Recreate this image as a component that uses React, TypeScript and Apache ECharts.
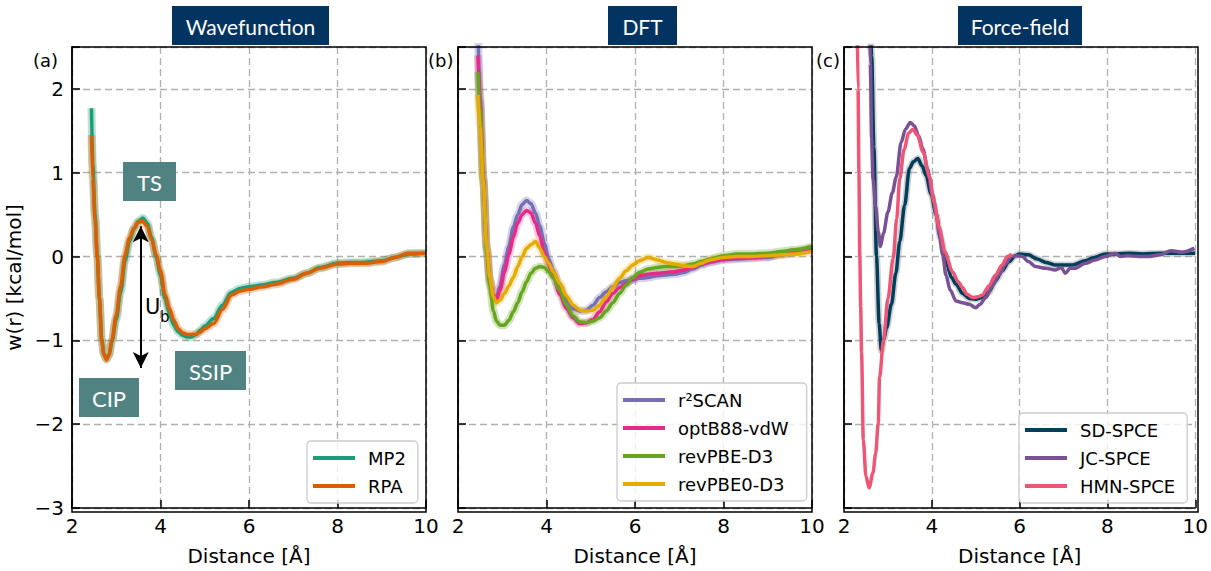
import React, { useEffect, useRef } from 'react';
import * as echarts from 'echarts';

// ---------- Panel (a): Wavefunction ----------
const aX = [2.44, 2.47, 2.52, 2.57, 2.62, 2.67, 2.72, 2.78, 2.84, 2.9, 3.0, 3.1, 3.2, 3.3, 3.4, 3.5, 3.6, 3.7, 3.8, 3.9, 4.0, 4.1, 4.2, 4.3, 4.4, 4.5, 4.6, 4.7, 4.8, 4.9, 5.0, 5.2, 5.4, 5.6, 5.8, 6.0, 6.3, 6.6, 7.0, 7.3, 7.6, 8.0, 8.3, 8.6, 9.0, 9.3, 9.6, 10.0];
const mp2Y = [1.77, 1.1, 0.5, 0.02, -0.5, -0.98, -1.16, -1.22, -1.17, -1.02, -0.75, -0.42, -0.05, 0.18, 0.33, 0.42, 0.46, 0.4, 0.22, 0.0, -0.22, -0.5, -0.68, -0.82, -0.9, -0.94, -0.96, -0.96, -0.93, -0.88, -0.83, -0.74, -0.58, -0.43, -0.38, -0.36, -0.34, -0.31, -0.26, -0.2, -0.13, -0.08, -0.07, -0.07, -0.05, -0.01, 0.03, 0.04];
const rpaY = [1.45, 0.93, 0.45, 0.0, -0.5, -1.0, -1.17, -1.23, -1.17, -1.0, -0.7, -0.35, 0.02, 0.22, 0.34, 0.41, 0.42, 0.36, 0.2, 0.02, -0.17, -0.45, -0.62, -0.76, -0.86, -0.91, -0.93, -0.93, -0.93, -0.9, -0.86, -0.8, -0.63, -0.46, -0.41, -0.39, -0.36, -0.33, -0.27, -0.2, -0.14, -0.09, -0.08, -0.08, -0.06, -0.01, 0.04, 0.04];

// ---------- Panel (b): DFT ----------
const bX = [2.45, 2.5, 2.57, 2.65, 2.72, 2.8, 2.87, 2.95, 3.05, 3.15, 3.25, 3.35, 3.45, 3.55, 3.65, 3.75, 3.85, 3.95, 4.05, 4.15, 4.3, 4.45, 4.6, 4.75, 4.9, 5.05, 5.2, 5.35, 5.5, 5.65, 5.8, 5.95, 6.1, 6.3, 6.5, 6.7, 6.9, 7.1, 7.3, 7.5, 7.7, 8.0, 8.3, 8.6, 9.0, 9.3, 9.6, 10.0];
const r2scanY = [2.7, 1.9, 0.95, 0.1, -0.3, -0.47, -0.48, -0.35, -0.1, 0.12, 0.35, 0.5, 0.62, 0.67, 0.63, 0.52, 0.36, 0.16, -0.03, -0.17, -0.36, -0.52, -0.62, -0.65, -0.64, -0.58, -0.49, -0.42, -0.36, -0.31, -0.29, -0.28, -0.26, -0.25, -0.23, -0.22, -0.21, -0.19, -0.15, -0.1, -0.07, -0.04, -0.03, -0.02, -0.01, 0.02, 0.05, 0.1];
const optb88Y = [2.4, 1.85, 0.93, 0.1, -0.28, -0.47, -0.51, -0.4, -0.18, 0.03, 0.23, 0.4, 0.5, 0.55, 0.52, 0.4, 0.24, 0.05, -0.1, -0.22, -0.45, -0.62, -0.73, -0.8, -0.79, -0.75, -0.66, -0.54, -0.44, -0.37, -0.32, -0.27, -0.23, -0.21, -0.2, -0.19, -0.18, -0.16, -0.13, -0.09, -0.06, -0.03, -0.02, -0.01, 0.0, 0.03, 0.06, 0.1];
const revpbeY = [2.2, 1.75, 0.9, 0.05, -0.35, -0.65, -0.77, -0.82, -0.82, -0.76, -0.66, -0.55, -0.42, -0.3, -0.2, -0.14, -0.12, -0.13, -0.18, -0.25, -0.4, -0.58, -0.71, -0.78, -0.79, -0.77, -0.73, -0.65, -0.55, -0.44, -0.34, -0.25, -0.19, -0.15, -0.13, -0.12, -0.12, -0.11, -0.09, -0.06, -0.03, 0.01, 0.03, 0.03, 0.04, 0.06, 0.08, 0.12];
const revpbe0Y = [1.93, 1.55, 0.9, 0.12, -0.25, -0.48, -0.55, -0.52, -0.44, -0.35, -0.25, -0.12, 0.0, 0.1, 0.14, 0.18, 0.1, 0.0, -0.08, -0.18, -0.32, -0.47, -0.58, -0.64, -0.65, -0.64, -0.58, -0.48, -0.37, -0.26, -0.17, -0.1, -0.05, -0.01, -0.04, -0.07, -0.09, -0.11, -0.12, -0.08, -0.04, -0.01, 0.0, 0.0, 0.01, 0.02, 0.03, 0.06];

// ---------- Panel (c): Force-field ----------
const sdX = [2.6, 2.63, 2.68, 2.74, 2.8, 2.85, 2.9, 2.97, 3.08, 3.18, 3.27, 3.38, 3.49, 3.58, 3.68, 3.78, 3.87, 3.98, 4.1, 4.2, 4.32, 4.45, 4.55, 4.7, 4.85, 5.0, 5.15, 5.3, 5.45, 5.6, 5.76, 5.9, 6.0, 6.2, 6.4, 6.6, 6.8, 7.0, 7.2, 7.5, 7.7, 7.95, 8.2, 8.5, 8.8, 9.2, 9.6, 10.0];
const sdY = [2.8, 2.39, 1.3, 0.0, -0.8, -1.12, -1.0, -0.85, -0.57, -0.2, 0.18, 0.61, 1.05, 1.13, 1.17, 1.08, 0.97, 0.75, 0.5, 0.22, -0.06, -0.25, -0.33, -0.44, -0.5, -0.51, -0.49, -0.42, -0.29, -0.17, -0.06, 0.01, 0.03, 0.02, -0.03, -0.07, -0.1, -0.1, -0.1, -0.05, -0.01, 0.03, 0.03, 0.04, 0.03, 0.04, 0.04, 0.04];
const jcX = [2.58, 2.6, 2.63, 2.66, 2.72, 2.78, 2.83, 2.9, 3.0, 3.1, 3.19, 3.3, 3.4, 3.51, 3.6, 3.7, 3.8, 3.9, 4.02, 4.1, 4.17, 4.25, 4.32, 4.42, 4.55, 4.7, 4.85, 5.0, 5.1, 5.23, 5.38, 5.53, 5.68, 5.8, 5.95, 6.06, 6.2, 6.36, 6.6, 6.81, 6.95, 7.04, 7.15, 7.26, 7.5, 7.72, 7.95, 8.17, 8.3, 8.47, 8.7, 8.92, 9.2, 9.45, 9.7, 9.98];
const jcY = [2.8, 2.3, 1.4, 0.93, 0.6, 0.3, 0.12, 0.28, 0.53, 0.76, 0.95, 1.36, 1.52, 1.6, 1.56, 1.44, 1.28, 1.05, 0.73, 0.5, 0.26, 0.02, -0.22, -0.4, -0.53, -0.55, -0.57, -0.61, -0.57, -0.49, -0.35, -0.22, -0.09, 0.0, 0.01, 0.0, -0.06, -0.12, -0.14, -0.16, -0.13, -0.2, -0.14, -0.14, -0.08, -0.04, 0.0, 0.04, 0.0, 0.01, 0.0, 0.0, 0.02, 0.07, 0.05, 0.1];
const hmnX = [2.3, 2.32, 2.34, 2.36, 2.38, 2.4, 2.44, 2.5, 2.57, 2.66, 2.72, 2.78, 2.81, 2.9, 3.0, 3.12, 3.2, 3.27, 3.37, 3.47, 3.57, 3.67, 3.8, 3.95, 4.05, 4.17, 4.3, 4.47, 4.6, 4.7, 4.8, 4.93, 5.05, 5.15, 5.3, 5.45, 5.6, 5.72, 5.82];
const hmnY = [2.8, 2.0, 1.0, 0.0, -0.6, -1.15, -2.19, -2.62, -2.76, -2.58, -2.35, -1.99, -1.44, -1.0, -0.5, -0.02, 0.45, 0.93, 1.28, 1.47, 1.52, 1.45, 1.25, 0.95, 0.65, 0.34, 0.05, -0.18, -0.3, -0.37, -0.45, -0.49, -0.48, -0.46, -0.35, -0.22, -0.1, 0.0, 0.03];

// ---------- axes / text ----------
const xMin = 2, xMax = 10, xStep = 2;
const yMin = -3, yMax = 2.5, yStep = 1;
const panelTitles = ['Wavefunction', 'DFT', 'Force-field'];
const panelTags = ['(a)', '(b)', '(c)'];
const xName = 'Distance [Å]';
const yName = 'w(r) [kcal/mol]';
// barrier arrow (data units, panel a)
const arrowX = 3.555, arrowTop = 0.36, arrowBottom = -1.33;

const C = {
  mp2: '#1b9e77', rpa: '#d95f02',
  r2: '#7570b3', opt: '#e7298a', rev: '#66a61e', rev0: '#e6ab02',
  sd: '#003f5c', jc: '#7a5195', hmn: '#ef5675',
  title: '#033461', note: '#508281',
};

const pairs = (xs: number[], ys: number[]) => xs.map((x, i) => [x, ys[i]]);

const GRID_TOP = 47, GRID_H = 465, GRID_W = 354;
const GRID_LEFTS = [72, 458, 844];
const TAG_X = [33, 428, 816];
const FONT = 'DejaVu Sans';
const AX_FS = 20;

function line(name: string, xs: number[], ys: number[], color: string, gi: number, extra: any = {}) {
  return {
    type: 'line', name, xAxisIndex: gi, yAxisIndex: gi, data: pairs(xs, ys),
    showSymbol: false, symbol: 'none', smooth: 0.3, smoothMonotone: 'x',
    lineStyle: { color, width: 3.5 }, itemStyle: { color }, clip: true, silent: true,
    ...extra,
  };
}
function band(name: string, xs: number[], ys: number[], color: string, gi: number, width = 8, opacity = 0.3) {
  return {
    type: 'line', name, xAxisIndex: gi, yAxisIndex: gi, data: pairs(xs, ys),
    showSymbol: false, symbol: 'none', smooth: 0.3, smoothMonotone: 'x',
    lineStyle: { color, width, opacity }, itemStyle: { color }, clip: true, silent: true, z: 1,
  };
}

export default function App() {
  const ref = useRef<HTMLDivElement>(null);
  useEffect(() => {
    if (!ref.current) return;
    const chart = echarts.init(ref.current, null, { renderer: 'svg' });

    const grids = GRID_LEFTS.map((l) => ({ left: l, top: GRID_TOP, width: GRID_W, height: GRID_H }));
    const xAxes = GRID_LEFTS.map((_, i) => ({
      type: 'value', gridIndex: i, min: xMin, max: xMax, interval: xStep,
      name: xName, nameLocation: 'middle', nameGap: 38,
      nameTextStyle: { fontFamily: FONT, fontSize: AX_FS, color: '#000' },
      axisLine: { show: true, onZero: false, lineStyle: { color: '#000', width: 1.5 } },
      axisTick: { show: true, inside: true, length: 8, lineStyle: { color: '#000', width: 1.5 } },
      axisLabel: { fontFamily: FONT, fontSize: AX_FS, color: '#000', margin: 8 },
      splitLine: { show: true, lineStyle: { color: '#b0b0b0', width: 1.3, type: [7, 4] } },
    }));
    const yAxes = GRID_LEFTS.map((_, i) => ({
      type: 'value', gridIndex: i, min: yMin, max: yMax, interval: yStep,
      name: i === 0 ? yName : '', nameLocation: 'middle', nameGap: 48,
      nameTextStyle: { fontFamily: FONT, fontSize: AX_FS, color: '#000' },
      axisLine: { show: true, onZero: false, lineStyle: { color: '#000', width: 1.5 } },
      axisTick: { show: true, inside: true, length: 8, lineStyle: { color: '#000', width: 1.5 } },
      axisLabel: {
        show: i === 0, fontFamily: FONT, fontSize: AX_FS, color: '#000', margin: 8,
        formatter: (v: number) => (Number.isInteger(v) ? (v < 0 ? '\u2212' + Math.abs(v) : String(v)) : ''),
      },
      splitLine: { show: true, lineStyle: { color: '#b0b0b0', width: 1.3, type: [7, 4] } },
    }));

    const series: any[] = [
      band('mp2band', aX, mp2Y, C.mp2, 0, 8, 0.3),
      band('rpaband', aX, rpaY, C.rpa, 0, 8, 0.3),
      line('MP2', aX, mp2Y, C.mp2, 0),
      line('RPA', aX, rpaY, C.rpa, 0, {
        markLine: {
          silent: true, symbol: ['arrow', 'arrow'], symbolSize: [12, 16],
          lineStyle: { color: '#000', width: 2, type: 'solid' }, label: { show: false },
          data: [[{ coord: [arrowX, arrowTop] }, { coord: [arrowX, arrowBottom] }]],
        },
      }),
      band('r2band', bX, r2scanY, C.r2, 1, 8, 0.3),
      band('optband', bX, optb88Y, C.opt, 1, 8, 0.25),
      band('revband', bX, revpbeY, C.rev, 1, 8, 0.3),
      band('rev0band', bX, revpbe0Y, C.rev0, 1, 8, 0.25),
      line('r²SCAN', bX, r2scanY, C.r2, 1),
      line('optB88-vdW', bX, optb88Y, C.opt, 1),
      line('revPBE-D3', bX, revpbeY, C.rev, 1),
      line('revPBE0-D3', bX, revpbe0Y, C.rev0, 1),
      band('sdband', sdX, sdY, '#9a9a9a', 2, 7, 0.45),
      line('SD-SPCE', sdX, sdY, C.sd, 2),
      line('JC-SPCE', jcX, jcY, C.jc, 2),
      line('HMN-SPCE', hmnX, hmnY, C.hmn, 2),
    ];

    const legendBase = {
      orient: 'vertical', icon: 'rect', itemWidth: 42, itemHeight: 4, itemGap: 10,
      backgroundColor: 'rgba(255,255,255,0.8)', borderColor: '#cccccc', borderWidth: 1.3, borderRadius: 4,
      selectedMode: false,
      textStyle: { fontFamily: FONT, fontSize: 18, color: '#000', padding: [0, 0, 0, 8] },
    };
    const legends = [
      { ...legendBase, left: 307, top: 441, padding: [8, 12, 8, 6], data: ['MP2', 'RPA'] },
      { ...legendBase, left: 617, top: 383, padding: [8, 18, 8, 6], data: ['r²SCAN', 'optB88-vdW', 'revPBE-D3', 'revPBE0-D3'] },
      { ...legendBase, left: 1019, top: 413, padding: [8, 12, 8, 6], data: ['SD-SPCE', 'JC-SPCE', 'HMN-SPCE'] },
    ];

    const titleBoxes = [
      { x: 172, w: 157 },
      { x: 608, w: 69 },
      { x: 958, w: 124 },
    ];
    const graphic: any[] = [];
    titleBoxes.forEach((b, i) => {
      graphic.push({ type: 'rect', shape: { x: b.x, y: 6, width: b.w, height: 39 }, style: { fill: C.title }, z: 50 });
      graphic.push({
        type: 'text', x: b.x + b.w / 2, y: 26, z: 51,
        style: { text: panelTitles[i], fill: '#fff', fontSize: 21, fontFamily: 'Lato', align: 'center', verticalAlign: 'middle' },
      });
    });
    GRID_LEFTS.forEach((l, i) => {
      graphic.push({ type: 'rect', shape: { x: l, y: GRID_TOP, width: GRID_W, height: GRID_H }, style: { fill: 'none', stroke: '#000', lineWidth: 1.5 }, z: 60 });
      graphic.push({
        type: 'text', x: TAG_X[i], y: 60, z: 60,
        style: { text: panelTags[i], fill: '#000', fontSize: 18, fontFamily: FONT, align: 'left', verticalAlign: 'middle' },
      });
    });
    const notes = [
      { t: 'TS', x: 123, y: 162, w: 53, h: 39 },
      { t: 'SSIP', x: 175, y: 351, w: 71, h: 39 },
      { t: 'CIP', x: 79, y: 378, w: 60, h: 39 },
    ];
    notes.forEach((n) => {
      graphic.push({ type: 'rect', shape: { x: n.x, y: n.y, width: n.w, height: n.h }, style: { fill: C.note }, z: 40 });
      graphic.push({
        type: 'text', x: n.x + n.w / 2, y: n.y + n.h / 2 + 1, z: 41,
        style: { text: n.t, fill: '#fff', fontSize: 22, fontFamily: 'Lato', align: 'center', verticalAlign: 'middle' },
      });
    });
    graphic.push({ type: 'text', x: 145, y: 307, z: 41, style: { text: 'U', fill: '#000', fontSize: 21, fontFamily: FONT, align: 'left', verticalAlign: 'middle' } });
    graphic.push({ type: 'text', x: 160, y: 317, z: 41, style: { text: 'b', fill: '#000', fontSize: 15, fontFamily: FONT, align: 'left', verticalAlign: 'middle' } });

    chart.setOption({
      animation: false,
      backgroundColor: '#fff',
      grid: grids,
      xAxis: xAxes,
      yAxis: yAxes,
      legend: legends,
      series,
      graphic,
    });
    return () => chart.dispose();
  }, []);
  return <div ref={ref} style={{ position: 'fixed', left: 0, top: 0, width: 1211, height: 571, background: '#fff' }} />;
}
